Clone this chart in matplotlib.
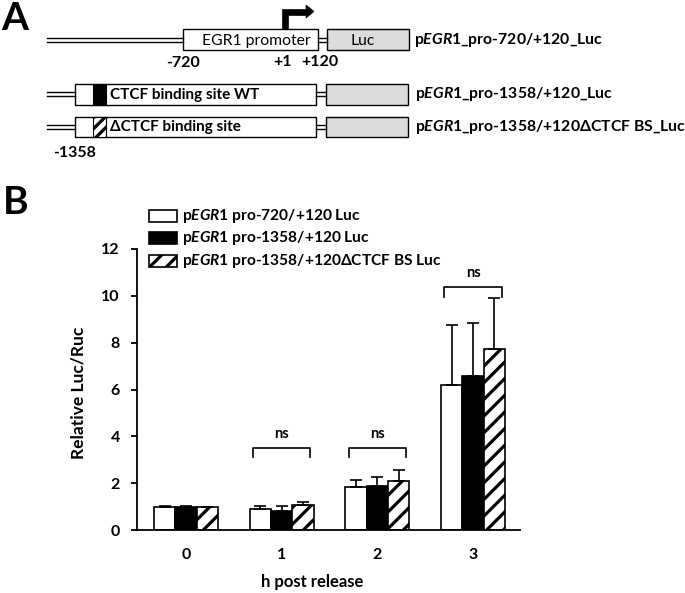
import matplotlib
matplotlib.use('Agg')
import matplotlib.pyplot as plt
from matplotlib.patches import Rectangle, Polygon
import numpy as np

plt.rcParams['font.family'] = ['Lato', 'DejaVu Sans']
plt.rcParams['mathtext.fontset'] = 'custom'
plt.rcParams['mathtext.rm'] = 'Lato:bold'
plt.rcParams['mathtext.it'] = 'Lato:italic:bold'
plt.rcParams['mathtext.bf'] = 'Lato:bold'
plt.rcParams['hatch.linewidth'] = 2.3

# ---------------- data ----------------
categories = ['0', '1', '2', '3']
series_labels = [r'p$\mathit{EGR1}$ pro-720/+120 Luc',
                 r'p$\mathit{EGR1}$ pro-1358/+120 Luc',
                 r'p$\mathit{EGR1}$ pro-1358/+120ΔCTCF BS Luc']
values_720 = [0.99, 0.90, 1.82, 6.19]
err_720 = [0.02, 0.12, 0.31, 2.56]
values_1358 = [0.99, 0.82, 1.89, 6.59]
err_1358 = [0.02, 0.20, 0.36, 2.23]
values_dctcf = [0.98, 1.05, 2.10, 7.71]
err_dctcf = [0.02, 0.16, 0.46, 2.18]
ns_groups = [1, 2, 3]
ns_levels = [3.5, 3.5, 10.36]
yticks = [0, 2, 4, 6, 8, 10, 12]

W, H = 685, 593
fig = plt.figure(figsize=(W / 100, H / 100), dpi=100)

# ---------------- panel B ----------------
ax_left, ax_right, ax_bot, ax_top = 137.3, 520, 530, 249
ax = fig.add_axes([ax_left / W, 1 - ax_bot / H, (ax_right - ax_left) / W, (ax_bot - ax_top) / H])
x = np.arange(len(categories))
bw = 0.223
styles = [dict(color='white', hatch=None), dict(color='black', hatch=None), dict(color='white', hatch='//')]
series = [(values_720, err_720), (values_1358, err_1358), (values_dctcf, err_dctcf)]
for i, ((vals, errs), st) in enumerate(zip(series, styles)):
    pos = x + (i - 1) * bw
    ax.bar(pos, vals, bw, color=st['color'], edgecolor='black', linewidth=1.2,
           hatch=st['hatch'], zorder=2)
    ax.errorbar(pos, vals, yerr=[np.zeros(len(errs)), errs], fmt='none', ecolor='black',
                elinewidth=1.2, capsize=4, capthick=1.2, zorder=3)

for g, lvl in zip(ns_groups, ns_levels):
    ax.plot([g - 0.30, g - 0.30, g + 0.30, g + 0.30], [lvl - 0.4, lvl, lvl, lvl - 0.4],
            color='black', lw=1.2, zorder=3)
    ax.text(g, lvl + 0.6, 'ns', ha='center', va='center', fontsize=10.5, fontweight='bold')

ax.set_xlim(-0.51, 3.49)
ax.set_ylim(0, 12)
ax.set_yticks(yticks)
ax.set_xticks(x)
ax.set_xticklabels(categories)
for s in ['top', 'right']:
    ax.spines[s].set_visible(False)
for s in ['left', 'bottom']:
    ax.spines[s].set_linewidth(1.3)
ax.tick_params(axis='y', direction='out', length=4.5, width=1.3, pad=8, labelsize=11.5)
ax.tick_params(axis='x', length=0, pad=13, labelsize=11.5)
for lab in ax.get_xticklabels() + ax.get_yticklabels():
    lab.set_fontweight('bold')
ax.set_ylabel('Relative Luc/Ruc', fontsize=12.5, fontweight='bold')
ax.set_xlabel('h post release', fontsize=12, fontweight='bold')
ax.yaxis.label.set_va('center')
ax.xaxis.label.set_va('center')
ax.yaxis.set_label_coords((78 - ax_left) / (ax_right - ax_left), 0.4875)
ax.xaxis.set_label_coords((312.5 - ax_left) / (ax_right - ax_left), -0.185)

# ---------------- overlay (panel A, legend, panel letters) ----------------
ov = fig.add_axes([0, 0, 1, 1], zorder=5)
ov.set_xlim(0, W)
ov.set_ylim(H, 0)
ov.axis('off')
ov.patch.set_alpha(0)

ov.text(1, 19, 'A', fontsize=28, fontweight='bold', ha='left', va='center')
ov.text(3, 203, 'B', fontsize=28, fontweight='bold', ha='left', va='center')

# legend for panel B
leg_rows = [216, 238.3, 261]
for (lab, st, yc) in zip(series_labels, styles, leg_rows):
    ov.add_patch(Rectangle((149, yc - 6), 27.7, 12, facecolor=st['color'], edgecolor='black',
                           lw=1.2, hatch=st['hatch']))
    ov.text(181.7, yc, lab, fontsize=11.2, fontweight='bold', ha='left', va='center')

def dbl(x0, x1, yc):
    for dy in (-1.8, 1.8):
        ov.plot([x0, x1], [yc + dy, yc + dy], color='black', lw=1.0)

# row 1
y1c = 39.7
dbl(47, 183, y1c)
ov.add_patch(Rectangle((183, 29.3), 134.7, 20.7, facecolor='white', edgecolor='black', lw=1.0))
dbl(317.7, 326.7, y1c)
ov.add_patch(Rectangle((326.7, 29.3), 82.3, 20.7, facecolor='#dcdcdc', edgecolor='black', lw=1.0))
ov.text(256.7, y1c + 1, 'EGR1 promoter', fontsize=11.3, ha='center', va='center')
ov.text(363, y1c + 1, 'Luc', fontsize=11.3, ha='center', va='center')
ov.plot([285, 285, 307], [29.3, 11.5, 11.5], color='black', lw=4.8, solid_joinstyle='miter',
        solid_capstyle='butt')
ov.add_patch(Polygon([[306, 5], [314, 11.5], [306, 18]], closed=True, facecolor='black',
                     edgecolor='black', lw=0.5))
ov.text(183, 63, '-720', fontsize=11.5, fontweight='bold', ha='center', va='center')
ov.text(283, 62, '+1', fontsize=11.5, fontweight='bold', ha='center', va='center')
ov.text(320, 62, '+120', fontsize=11.5, fontweight='bold', ha='center', va='center')
ov.text(414, y1c, r'p$\mathit{EGR1}$_pro-720/+120_Luc', fontsize=11.3, fontweight='bold',
        ha='left', va='center')

# rows 2 and 3
rows = [(84, 'black', None, 'CTCF binding site WT', r'p$\mathit{EGR1}$_pro-1358/+120_Luc'),
        (116.7, 'white', '///', 'ΔCTCF binding site', r'p$\mathit{EGR1}$_pro-1358/+120ΔCTCF BS_Luc')]
for (yt, fc, hat, inner, lab) in rows:
    yc = yt + 10.2
    dbl(47, 75, yc)
    ov.add_patch(Rectangle((75, yt), 241, 20.5, facecolor='white', edgecolor='black', lw=1.0))
    ov.add_patch(Rectangle((93.3, yt), 13, 20.5, facecolor=fc, edgecolor='black', lw=0.8, hatch=hat))
    ov.text(110, yc + 0.5, inner, fontsize=11, fontweight='bold', ha='left', va='center')
    dbl(316, 326, yc)
    ov.add_patch(Rectangle((326, yt), 82.3, 20.5, facecolor='#dcdcdc', edgecolor='black', lw=1.0))
    ov.text(415, yc, lab, fontsize=11.3, fontweight='bold', ha='left', va='center')
ov.text(75, 153, '-1358', fontsize=11.5, fontweight='bold', ha='center', va='center')

fig.savefig('out.png', dpi=100)
